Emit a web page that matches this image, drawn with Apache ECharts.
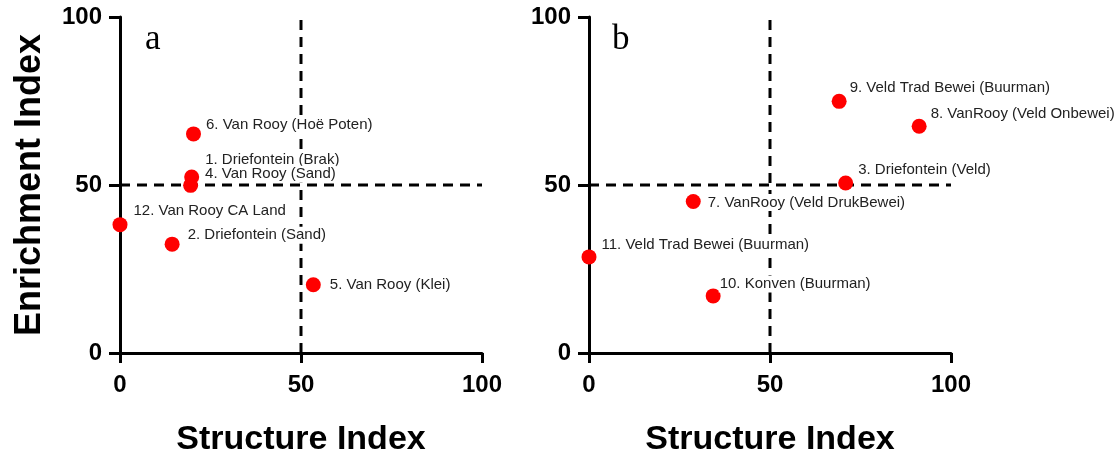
<!DOCTYPE html>
<html>
<head>
<meta charset="utf-8">
<script src="https://cdn.jsdelivr.net/npm/echarts@6/dist/echarts.min.js"></script>
<style>html,body{margin:0;padding:0;background:#fff}#c{width:1120px;height:456px}</style>
</head>
<body>
<div id="c"></div>
<script>
// ---- data ----
const namesA = ['1. Driefontein (Brak)','2. Driefontein (Sand)','4. Van Rooy (Sand)','5. Van Rooy (Klei)','6. Van Rooy (Hoë Poten)','12. Van Rooy CA Land'];
const structA = [19.8, 14.4, 19.5, 53.4, 20.3, 0];
const enrichA = [52.4, 32.4, 49.9, 20.3, 65.2, 38.2];

const namesB = ['3. Driefontein (Veld)','7. VanRooy (Veld DrukBewei)','8. VanRooy (Veld Onbewei)','9. Veld Trad Bewei (Buurman)','10. Konven (Buurman)','11. Veld Trad Bewei (Buurman)'];
const structB = [70.9, 28.8, 91.2, 69.1, 34.3, 0];
const enrichB = [50.6, 45.1, 67.5, 74.9, 17.0, 28.6];

const axisTicks = [0, 50, 100];
const threshold = 50;
const panelLetters = ['a', 'b'];
const xTitle = 'Structure Index';
const yTitle = 'Enrichment Index';

// ---- layout / styles (not data) ----
const labelOffsetsA = [[0,-17],[2,-9],[1,-11],[3,0],[-1,-9],[0,-14]];
const labelOffsetsB = [[-1,-13],[1,1],[-2,-12],[-3,-13],[-7,-12],[-1,-12]];
const F = 'Liberation Sans, Arial, sans-serif';

function points(names, xs, ys, offs) {
  return names.map((n, i) => ({
    name: n,
    value: [xs[i], ys[i]],
    label: { offset: offs[i] }
  }));
}

function xAxisCfg(gi) {
  return {
    gridIndex: gi, type: 'value', min: axisTicks[0], max: axisTicks[axisTicks.length-1],
    interval: axisTicks[1]-axisTicks[0],
    name: xTitle, nameLocation: 'middle', nameGap: 70,
    nameTextStyle: { fontFamily: F, fontSize: 34, fontWeight: 'bold', color: '#000' },
    axisLine: { show: true, onZero: false, lineStyle: { color: '#000', width: 3 } },
    axisTick: { show: true, length: 10, lineStyle: { color: '#000', width: 3 } },
    axisLabel: { margin: 20, fontFamily: F, fontSize: 24, fontWeight: 'bold', color: '#000' },
    splitLine: { show: false }
  };
}
function yAxisCfg(gi, withName) {
  return {
    gridIndex: gi, type: 'value', min: axisTicks[0], max: axisTicks[axisTicks.length-1],
    interval: axisTicks[1]-axisTicks[0],
    name: withName ? yTitle : '', nameLocation: 'middle', nameGap: 72,
    nameTextStyle: { fontFamily: F, fontSize: 36, fontWeight: 'bold', color: '#000' },
    axisLine: { show: true, onZero: false, lineStyle: { color: '#000', width: 3 } },
    axisTick: { show: true, length: 11, lineStyle: { color: '#000', width: 3 } },
    axisLabel: { margin: 18, fontFamily: F, fontSize: 24, fontWeight: 'bold', color: '#000' },
    splitLine: { show: false }
  };
}
function dashed(gi, vertical) {
  const lo = axisTicks[0], hi = axisTicks[axisTicks.length-1];
  return {
    type: 'line', xAxisIndex: gi, yAxisIndex: gi, z: 1, zlevel: 0, silent: true,
    symbol: 'none', animation: false,
    lineStyle: { color: '#000', width: 3, type: [10, 7] },
    data: vertical ? [[threshold, lo], [threshold, hi]] : [[lo, threshold], [hi, threshold]]
  };
}
function scatter(gi, data) {
  return {
    type: 'scatter', xAxisIndex: gi, yAxisIndex: gi, z: 5, zlevel: 1,
    symbolSize: 15, animation: false,
    itemStyle: { color: '#ff0000', opacity: 1 },
    label: {
      show: true, position: 'right', distance: 5,
      formatter: p => p.name,
      fontFamily: F, fontSize: 15, color: '#222',
      backgroundColor: '#ffffff', padding: [1, 1], lineHeight: 15
    },
    data: data
  };
}

const chart = echarts.init(document.getElementById('c'), null, { renderer: 'canvas' });
chart.setOption({
  backgroundColor: '#fff',
  title: [
    { text: panelLetters[0], left: 140, top: 17, textStyle: { fontFamily: 'Liberation Serif, Times New Roman, serif', fontSize: 35, fontWeight: 'normal', color: '#000' } },
    { text: panelLetters[1], left: 607, top: 17, textStyle: { fontFamily: 'Liberation Serif, Times New Roman, serif', fontSize: 35, fontWeight: 'normal', color: '#000' } }
  ],
  grid: [
    { left: 120, top: 17, width: 362, height: 336, outerBoundsMode: 'none' },
    { left: 589, top: 17, width: 362, height: 336, outerBoundsMode: 'none' }
  ],
  xAxis: [xAxisCfg(0), xAxisCfg(1)],
  yAxis: [yAxisCfg(0, true), yAxisCfg(1, false)],
  series: [
    dashed(0, true), dashed(0, false),
    dashed(1, true), dashed(1, false),
    scatter(0, points(namesA, structA, enrichA, labelOffsetsA)),
    scatter(1, points(namesB, structB, enrichB, labelOffsetsB))
  ]
});
</script>
</body>
</html>
